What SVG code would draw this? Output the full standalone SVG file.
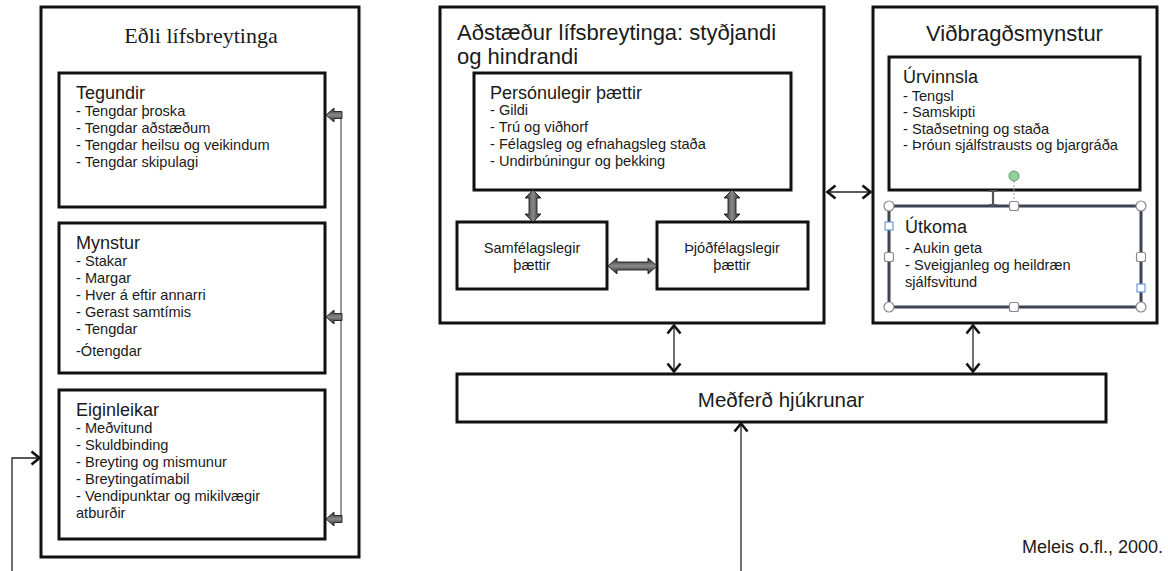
<svg xmlns="http://www.w3.org/2000/svg" width="1168" height="571" viewBox="0 0 1168 571">
<style>
.box{fill:#fff;stroke:#111;stroke-width:3}
.t{font-family:"Liberation Sans",Arial,sans-serif;fill:#1a1a1a}
.h{font-size:18px}
.i{font-size:14.6px}
.big{font-size:22px}
.ln{fill:none;stroke:#222;stroke-width:1.3}
.blk{stroke:#1e1e1e;stroke-width:0.9}
.hdl{fill:#fff;stroke:#8a8a8a;stroke-width:1.2}
</style>
<defs>
<marker id="chev" viewBox="0 0 11 16" refX="10" refY="8" markerWidth="11" markerHeight="16" markerUnits="userSpaceOnUse" orient="auto-start-reverse">
<path d="M1.5,1.5 L9.5,8 L1.5,14.5" fill="none" stroke="#111" stroke-width="2.6"/>
</marker>
<linearGradient id="gv" x1="0" y1="0" x2="1" y2="0">
<stop offset="0" stop-color="#262626"/><stop offset="0.5" stop-color="#8a8a8a"/><stop offset="1" stop-color="#262626"/>
</linearGradient>
<linearGradient id="gh" x1="0" y1="0" x2="0" y2="1">
<stop offset="0" stop-color="#262626"/><stop offset="0.5" stop-color="#8a8a8a"/><stop offset="1" stop-color="#262626"/>
</linearGradient>
</defs>
<rect width="1168" height="571" fill="#fff"/>

<g id="edli">
<rect class="box" x="41" y="7" width="318" height="550"/>
<text x="201" y="43" text-anchor="middle" font-family="'Liberation Serif','DejaVu Serif',serif" font-size="22" fill="#1a1a1a">Eðli lífsbreytinga</text>
</g>

<g id="tegundir">
<rect class="box" x="59" y="73" width="266" height="134"/>
<text class="t h" x="76" y="99">Tegundir</text>
<text class="t i" x="76" y="116">- Tengdar þroska</text>
<text class="t i" x="76" y="133">- Tengdar aðstæðum</text>
<text class="t i" x="76" y="150">- Tengdar heilsu og veikindum</text>
<text class="t i" x="76" y="167">- Tengdar skipulagi</text>
</g>

<g id="mynstur">
<rect class="box" x="59" y="223" width="266" height="150"/>
<text class="t h" x="76" y="249">Mynstur</text>
<text class="t i" x="76" y="266">- Stakar</text>
<text class="t i" x="76" y="283">- Margar</text>
<text class="t i" x="76" y="300">- Hver á eftir annarri</text>
<text class="t i" x="76" y="317">- Gerast samtímis</text>
<text class="t i" x="76" y="334">- Tengdar</text>
<text class="t i" x="76" y="356">-Ótengdar</text>
</g>

<g id="eiginleikar">
<rect class="box" x="59" y="390" width="266" height="149"/>
<text class="t h" x="76" y="416">Eiginleikar</text>
<text class="t i" x="76" y="433">- Meðvitund</text>
<text class="t i" x="76" y="450">- Skuldbinding</text>
<text class="t i" x="76" y="467">- Breyting og mismunur</text>
<text class="t i" x="76" y="484">- Breytingatímabil</text>
<text class="t i" x="76" y="501">- Vendipunktar og mikilvægir</text>
<text class="t i" x="76" y="518">atburðir</text>
</g>

<g id="adstaedur">
<rect class="box" x="440" y="7" width="384" height="316"/>
<text class="t big" x="457" y="40">Aðstæður lífsbreytinga: styðjandi</text>
<text class="t big" x="457" y="64">og hindrandi</text>
</g>

<g id="personulegir">
<rect class="box" x="474" y="73" width="317" height="117"/>
<text class="t h" x="490" y="99">Persónulegir þættir</text>
<text class="t i" x="490" y="115">- Gildi</text>
<text class="t i" x="490" y="132">- Trú og viðhorf</text>
<text class="t i" x="490" y="149">- Félagsleg og efnahagsleg staða</text>
<text class="t i" x="490" y="166">- Undirbúningur og þekking</text>
</g>

<g id="samfelagslegir">
<rect class="box" x="457" y="222" width="150" height="67"/>
<text class="t i" x="532" y="253" text-anchor="middle">Samfélagslegir</text>
<text class="t i" x="532" y="270" text-anchor="middle">þættir</text>
</g>

<g id="thjodfelagslegir">
<rect class="box" x="657" y="222" width="151" height="67"/>
<text class="t i" x="732" y="253" text-anchor="middle">Þjóðfélagslegir</text>
<text class="t i" x="732" y="270" text-anchor="middle">þættir</text>
</g>

<g id="vidbragdsmynstur">
<rect class="box" x="873" y="7" width="284" height="316"/>
<text class="t big" x="1014.5" y="41" text-anchor="middle">Viðbragðsmynstur</text>
</g>

<g id="urvinnsla">
<rect class="box" x="889" y="57" width="251" height="133"/>
<text class="t h" x="903" y="83">Úrvinnsla</text>
<text class="t i" x="903" y="101">- Tengsl</text>
<text class="t i" x="903" y="117">- Samskipti</text>
<text class="t i" x="903" y="134">- Staðsetning og staða</text>
<text class="t i" x="903" y="150">- Þróun sjálfstrausts og bjargráða</text>
</g>

<g id="utkoma">
<rect x="889" y="206" width="252" height="101" fill="#fff" stroke="#3c4352" stroke-width="3"/>
<path d="M989,191 h8 M993,191 v14 M989,205 h8" stroke="#555" stroke-width="2.2" fill="none"/>
<line x1="1014" y1="181" x2="1014" y2="202" stroke="#9a9a9a" stroke-width="1" stroke-dasharray="2,2"/>
<circle cx="1014" cy="176" r="5" fill="#8fd39a" stroke="#5c9d68" stroke-width="1"/>
<circle class="hdl" cx="889" cy="206" r="5"/>
<circle class="hdl" cx="1141" cy="206" r="5"/>
<circle class="hdl" cx="889" cy="307" r="5"/>
<circle class="hdl" cx="1141" cy="307" r="5"/>
<rect class="hdl" x="1009.5" y="201.5" width="9" height="9" rx="2"/>
<rect class="hdl" x="1009.5" y="302.5" width="9" height="9" rx="2"/>
<rect class="hdl" x="884.5" y="252.5" width="9" height="9" rx="2"/>
<rect class="hdl" x="1136.5" y="252.5" width="9" height="9" rx="2"/>
<rect x="885" y="222" width="8" height="8" fill="#fff" stroke="#6d9ad8" stroke-width="1.2"/>
<rect x="1137" y="284" width="8" height="8" fill="#fff" stroke="#6d9ad8" stroke-width="1.2"/>
<text class="t h" x="905" y="233">Útkoma</text>
<text class="t i" x="905" y="253">- Aukin geta</text>
<text class="t i" x="905" y="270">- Sveigjanleg og heildræn</text>
<text class="t i" x="905" y="287">sjálfsvitund</text>
</g>

<g id="medferd">
<rect class="box" x="457" y="374" width="649" height="48"/>
<text class="t" x="781" y="407" text-anchor="middle" font-size="20.5">Meðferð hjúkrunar</text>
</g>

<g id="citation">
<text class="t" x="1163" y="553" text-anchor="end" font-size="18">Meleis o.fl., 2000.</text>
</g>

<g id="connectors">
<line x1="341" y1="115" x2="341" y2="519" stroke="#777" stroke-width="1.5"/>
<polygon class="blk" fill="url(#gh)" points="326,115 334,108 334,111.5 342,111.5 342,118.5 334,118.5 334,122"/>
<polygon class="blk" fill="url(#gh)" points="326,317 334,310 334,313.5 342,313.5 342,320.5 334,320.5 334,324"/>
<polygon class="blk" fill="url(#gh)" points="326,519 334,512 334,515.5 342,515.5 342,522.5 334,522.5 334,526"/>
<polyline class="ln" points="12,571 12,458 40,458" marker-end="url(#chev)"/>
<line class="ln" x1="741" y1="571" x2="741" y2="423" marker-end="url(#chev)"/>
<polygon class="blk" fill="url(#gv)" points="533,190 541,198 537,198 537,214 541,214 533,222 525,214 529,214 529,198 525,198"/>
<polygon class="blk" fill="url(#gv)" points="732,190 740,198 736,198 736,214 740,214 732,222 724,214 728,214 728,198 724,198"/>
<polygon class="blk" fill="url(#gh)" points="608,266 617,258 617,262 648,262 648,258 657,266 648,274 648,270 617,270 617,274"/>
<line class="ln" x1="827" y1="192" x2="871" y2="192" marker-start="url(#chev)" marker-end="url(#chev)"/>
<line class="ln" x1="674" y1="325" x2="674" y2="372" marker-start="url(#chev)" marker-end="url(#chev)"/>
<line class="ln" x1="973" y1="325" x2="973" y2="372" marker-start="url(#chev)" marker-end="url(#chev)"/>
</g>
</svg>
